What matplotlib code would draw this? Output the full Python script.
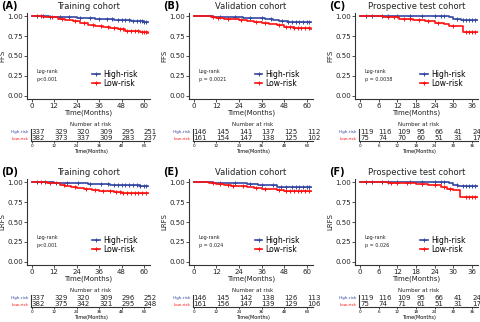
import numpy as np
import matplotlib
matplotlib.use('Agg')
import matplotlib.pyplot as plt

BLUE = '#3347A3'
RED = '#FF1010'
AX_COL = '#333333'

# ---------------- data ----------------
titles = ['Training cohort', 'Validation cohort', 'Prospective test cohort',
          'Training cohort', 'Validation cohort', 'Prospective test cohort']
letters = ['(A)', '(B)', '(C)', '(D)', '(E)', '(F)']
ylabels = ['FFS', 'FFS', 'FFS', 'LRFS', 'LRFS', 'LRFS']
pvals = ['p<0.001', 'p = 0.0021', 'p = 0.0038', 'p<0.001', 'p = 0.024', 'p = 0.026']
ticks_long = [0, 12, 24, 36, 48, 60]
ticks_short = [0, 6, 12, 18, 24, 30, 36]

# A  FFS training
a_hi_t = [0, 4, 9, 14, 19, 24, 29, 34, 39, 44, 49, 53, 57, 60, 62]
a_hi_s = [1.0, 0.998, 0.995, 0.99, 0.985, 0.98, 0.975, 0.968, 0.962, 0.956, 0.95, 0.945, 0.94, 0.932, 0.932]
a_lo_t = [0, 6, 10, 14, 18, 22, 26, 30, 34, 38, 42, 46, 50, 54, 58, 62]
a_lo_s = [1.0, 0.995, 0.985, 0.97, 0.955, 0.935, 0.915, 0.895, 0.88, 0.865, 0.85, 0.835, 0.82, 0.81, 0.8, 0.795]
a_hi_c = [3, 6, 10, 15, 20, 26, 31, 36, 40, 43, 46, 48, 50, 52, 54, 56, 58, 59, 60, 61]
a_lo_c = [5, 11, 16, 23, 28, 33, 37, 41, 44, 47, 49, 51, 53, 55, 57, 59, 60, 61]

# B  FFS validation
b_hi_t = [0, 10, 15, 20, 26, 32, 38, 42, 45, 50, 62]
b_hi_s = [1.0, 0.995, 0.99, 0.985, 0.98, 0.975, 0.965, 0.95, 0.935, 0.93, 0.93]
b_lo_t = [0, 9, 12, 16, 20, 24, 28, 32, 36, 40, 44, 48, 53, 58, 62]
b_lo_s = [1.0, 0.985, 0.975, 0.968, 0.96, 0.95, 0.94, 0.93, 0.915, 0.9, 0.885, 0.865, 0.855, 0.85, 0.845]
b_hi_c = [14, 22, 30, 36, 41, 47, 50, 52, 54, 56, 58, 60, 61]
b_lo_c = [10, 13, 18, 25, 33, 38, 45, 49, 51, 53, 55, 57, 59, 61]

# C  FFS prospective
c_hi_t = [0, 28.5, 30, 32.5, 37.8]
c_hi_s = [1.0, 0.985, 0.97, 0.95, 0.95]
c_lo_t = [0, 7.5, 12.5, 17, 21, 24, 27, 28.5, 33, 37.8]
c_lo_s = [1.0, 0.985, 0.97, 0.958, 0.94, 0.92, 0.9, 0.88, 0.805, 0.805]
c_hi_c = [2, 4, 7, 9, 12, 16, 20, 24, 26, 27, 31, 33, 34, 35, 36, 37]
c_lo_c = [9, 11, 14, 16, 19, 22, 25, 30, 34, 35, 36, 37]

# D  LRFS training
d_hi_t = [0, 6, 12, 18, 24, 30, 36, 42, 48, 54, 58, 62]
d_hi_s = [1.0, 0.998, 0.995, 0.99, 0.985, 0.98, 0.975, 0.97, 0.965, 0.96, 0.955, 0.955]
d_lo_t = [0, 8, 12, 15, 18, 21, 24, 28, 32, 36, 40, 44, 48, 52, 56, 62]
d_lo_s = [1.0, 0.995, 0.985, 0.97, 0.955, 0.94, 0.925, 0.915, 0.905, 0.895, 0.885, 0.875, 0.87, 0.865, 0.86, 0.86]
d_hi_c = [3, 7, 13, 19, 25, 31, 37, 41, 44, 46, 48, 50, 52, 54, 56, 58, 60, 61]
d_lo_c = [5, 10, 17, 23, 29, 34, 38, 42, 45, 47, 49, 51, 53, 55, 57, 59, 61]

# E  LRFS validation
e_hi_t = [0, 10, 20, 28, 34, 40, 44, 50, 62]
e_hi_s = [1.0, 0.993, 0.988, 0.98, 0.97, 0.96, 0.945, 0.94, 0.94]
e_lo_t = [0, 8, 12, 16, 20, 24, 28, 32, 36, 40, 44, 48, 62]
e_lo_s = [1.0, 0.985, 0.975, 0.967, 0.958, 0.95, 0.94, 0.93, 0.92, 0.91, 0.9, 0.89, 0.89]
e_hi_c = [14, 22, 30, 36, 42, 46, 49, 52, 54, 56, 58, 60, 61]
e_lo_c = [10, 14, 18, 21, 26, 33, 38, 45, 49, 51, 53, 55, 57, 59, 61]

# F  LRFS prospective
f_hi_t = [0, 28.5, 30, 31.5, 37.8]
f_hi_s = [1.0, 0.985, 0.965, 0.95, 0.95]
f_lo_t = [0, 9, 18, 22, 26, 28, 30, 32, 37.8]
f_lo_s = [1.0, 0.988, 0.975, 0.96, 0.94, 0.92, 0.9, 0.82, 0.82]
f_hi_c = [2, 4, 7, 9, 12, 16, 20, 24, 26, 27, 31, 33, 34, 35, 36, 37]
f_lo_c = [10, 12, 15, 20, 24, 27, 29, 34, 35, 36, 37]

# numbers at risk
risk_hi = [[337, 329, 320, 309, 295, 251],
           [146, 145, 141, 137, 125, 112],
           [119, 116, 109, 95, 66, 41, 24],
           [337, 329, 320, 309, 296, 252],
           [146, 145, 142, 138, 126, 113],
           [119, 116, 109, 95, 66, 41, 24]]
risk_lo = [[382, 373, 337, 309, 283, 237],
           [161, 154, 147, 138, 125, 102],
           [75, 74, 70, 60, 51, 31, 17],
           [382, 375, 342, 321, 295, 248],
           [161, 156, 147, 139, 129, 106],
           [75, 74, 71, 61, 51, 31, 17]]

curves = [
    (a_hi_t, a_hi_s, a_hi_c, a_lo_t, a_lo_s, a_lo_c),
    (b_hi_t, b_hi_s, b_hi_c, b_lo_t, b_lo_s, b_lo_c),
    (c_hi_t, c_hi_s, c_hi_c, c_lo_t, c_lo_s, c_lo_c),
    (d_hi_t, d_hi_s, d_hi_c, d_lo_t, d_lo_s, d_lo_c),
    (e_hi_t, e_hi_s, e_hi_c, e_lo_t, e_lo_s, e_lo_c),
    (f_hi_t, f_hi_s, f_hi_c, f_lo_t, f_lo_s, f_lo_c),
]

# ---------------- layout ----------------
W, H = 480, 322
fig = plt.figure(figsize=(W / 100, H / 100), dpi=100)
fig.patch.set_facecolor('white')


def px_axes(x0, y0, x1, y1):
    return fig.add_axes([x0 / W, 1 - y1 / H, (x1 - x0) / W, (y1 - y0) / H])


cols = [(27, 150), (189, 313), (355, 478)]
rows_main = [(13, 99), (179, 265)]
rows_tab = [(129, 141), (295, 307)]
TXT = '#222222'


def style_spines(ax):
    for s in ['top', 'right']:
        ax.spines[s].set_visible(False)
    for s in ['left', 'bottom']:
        ax.spines[s].set_color(AX_COL)
        ax.spines[s].set_linewidth(0.8)


def step_value(t, s, c):
    t = np.asarray(t)
    s = np.asarray(s)
    idx = np.searchsorted(t, c, side='right') - 1
    return s[idx]


for i in range(6):
    r, cidx = divmod(i, 3)
    x0, x1 = cols[cidx]
    y0, y1 = rows_main[r]
    short = cidx == 2
    xticks = ticks_short if short else ticks_long
    xlim = (-1.6, 37.9) if short else (-2.5, 63.2)

    ax = px_axes(x0, y0, x1, y1)
    style_spines(ax)
    hi_t, hi_s, hi_c, lo_t, lo_s, lo_c = curves[i]
    ax.step(hi_t, hi_s, where='post', color=BLUE, lw=1.2, zorder=3)
    ax.plot(hi_c, step_value(hi_t, hi_s, hi_c), ls='none', marker='+',
            ms=3, mew=0.7, color=BLUE, zorder=3)
    ax.step(lo_t, lo_s, where='post', color=RED, lw=1.2, zorder=4)
    ax.plot(lo_c, step_value(lo_t, lo_s, lo_c), ls='none', marker='+',
            ms=3, mew=0.7, color=RED, zorder=4)
    ax.set_xlim(*xlim)
    ax.set_ylim(-0.04, 1.04)
    ax.set_xticks(xticks)
    ax.set_yticks([0, 0.25, 0.5, 0.75, 1.0])
    ax.set_yticklabels(['0.00', '0.25', '0.50', '0.75', '1.00'])
    ax.tick_params(labelsize=5, length=2, width=0.6, pad=1,
                   colors=AX_COL, labelcolor=TXT)
    ax.set_xlabel('Time(Months)', fontsize=5, labelpad=0.5, color=TXT)
    ax.set_ylabel(ylabels[i], fontsize=5, labelpad=1.5, color=TXT)
    ax.set_title(titles[i], fontsize=6, pad=3, color=TXT)

    # legend
    h1, = ax.plot([], [], color=BLUE, lw=1.2, marker='+', ms=3, mew=0.7)
    h2, = ax.plot([], [], color=RED, lw=1.2, marker='+', ms=3, mew=0.7)
    ax.legend([h1, h2], ['High-risk', 'Low-risk'], loc='center left',
              bbox_to_anchor=(0.53, 0.235), frameon=False, fontsize=5.5,
              handlelength=1.0, handletextpad=0.4, labelspacing=0.0,
              borderpad=0, borderaxespad=0)

    ax.text(0.08, 0.32, 'Log-rank', transform=ax.transAxes, fontsize=3.5,
            va='center', ha='left', color=TXT)
    ax.text(0.08, 0.225, pvals[i], transform=ax.transAxes, fontsize=3.5,
            va='center', ha='left', color=TXT)

    # panel letter
    fig.text((x0 - 26) / W, 1 - (y0 - 7) / H,
             letters[i], fontsize=7, fontweight='bold', va='center', ha='left')

    # risk table
    ty0, ty1 = rows_tab[r]
    tx = px_axes(x0 + 4, ty0, x1, ty1)
    style_spines(tx)
    scale = (xlim[1] - xlim[0]) / (x1 - x0)
    tx.set_xlim(xlim[0] + 4 * scale, xlim[1])
    tx.set_ylim(0, 2)
    tx.set_yticks([1.5, 0.5])
    tx.set_yticklabels(['High-risk', 'Low-risk'])
    for lab, col in zip(tx.get_yticklabels(), [BLUE, RED]):
        lab.set_color(col)
    tx.set_xticks(xticks)
    tx.tick_params(axis='x', labelsize=3, length=1.5, width=0.5, pad=1)
    tx.tick_params(axis='y', labelsize=3, length=0, pad=1.5)
    tx.set_xlabel('Time(Months)', fontsize=3.5, labelpad=0.5)
    for xv, n in zip(xticks, risk_hi[i]):
        tx.text(xv, 1.5, str(n), fontsize=5, ha='left', va='center', color=TXT)
    for xv, n in zip(xticks, risk_lo[i]):
        tx.text(xv, 0.5, str(n), fontsize=5, ha='left', va='center', color=TXT)
    tx.set_title('Number at risk', fontsize=4, pad=2.5, color=TXT)

fig.savefig('out.png', dpi=100, facecolor='white')
